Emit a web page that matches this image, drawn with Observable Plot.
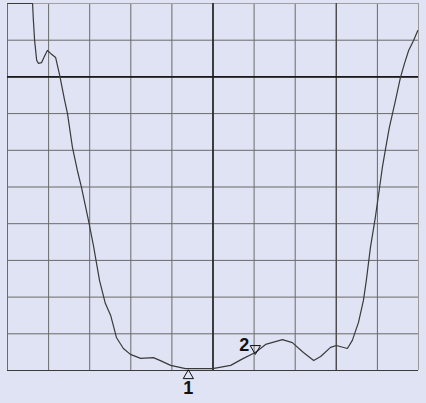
<!DOCTYPE html>
<html>
<head>
<meta charset="utf-8">
<script src="https://cdn.jsdelivr.net/npm/d3@7"></script>
<script src="https://cdn.jsdelivr.net/npm/@observablehq/plot@0.6"></script>
<style>
  html, body { margin: 0; padding: 0; background: #dfe3f3; }
  #chart svg { display: block; }
</style>
</head>
<body>
<div id="chart"></div>
<script>
// Trace (x in divisions 0..10, y in dB, top = 0, 1 dB/div)
const traceX = [0, 0.61, 0.63, 0.66, 0.71, 0.75, 0.83, 0.90, 0.97, 1.05, 1.17, 1.27, 1.39, 1.46, 1.58, 1.70, 1.80, 1.97, 2.09, 2.24, 2.38, 2.51, 2.65, 2.82, 2.99, 3.24, 3.55, 3.72, 3.97, 4.33, 4.99, 5.43, 5.74, 6.03, 6.28, 6.69, 6.93, 7.20, 7.45, 7.62, 7.86, 8.00, 8.27, 8.39, 8.54, 8.66, 8.73, 8.83, 8.95, 9.05, 9.12, 9.20, 9.29, 9.44, 9.56, 9.66, 9.76, 9.88, 9.98];
const traceY = [0, 0, -0.46, -1.01, -1.55, -1.63, -1.61, -1.44, -1.28, -1.36, -1.47, -1.96, -2.64, -3.00, -3.92, -4.55, -5.01, -5.91, -6.59, -7.55, -8.17, -8.50, -9.10, -9.40, -9.56, -9.67, -9.65, -9.73, -9.86, -9.95, -9.95, -9.86, -9.67, -9.51, -9.29, -9.16, -9.24, -9.51, -9.73, -9.62, -9.37, -9.32, -9.40, -9.18, -8.69, -8.09, -7.55, -6.65, -5.83, -5.04, -4.47, -3.95, -3.38, -2.64, -2.02, -1.63, -1.28, -1.01, -0.74];

// Markers
const markerLabels = ["1", "2"];
const markerX = [4.40, 6.03];
const markerY = [-9.95, -9.51];

// Grid
const gridX = [0, 1, 2, 3, 4, 5, 6, 7, 8, 9, 10];
const gridY = [0, -1, -2, -3, -4, -5, -6, -7, -8, -9, -10];
const thickX = [5];
const mediumX = [8];
const thickY = [-2];

const trace = traceX.map((x, i) => ({x, y: traceY[i]}));
const markers = markerLabels.map((label, i) => ({label, x: markerX[i], y: markerY[i]}));

const chart = Plot.plot({
  width: 426,
  height: 403,
  marginLeft: 7,
  marginRight: 8,
  marginTop: 3,
  marginBottom: 33,
  x: {domain: [0, 10], axis: null},
  y: {domain: [-10, 0], axis: null},
  style: {background: "#dfe3f3"},
  marks: [
    Plot.ruleX(gridX.filter(v => v !== 10), {stroke: "#6a6a6a", strokeWidth: 1}),
    Plot.ruleX([10], {stroke: "#9a9a9a", strokeWidth: 1}),
    Plot.ruleY(gridY.filter(v => v !== 0 && v !== -10), {stroke: "#6a6a6a", strokeWidth: 1}),
    Plot.ruleY([0], {stroke: "#a0a0a0", strokeWidth: 1}),
    Plot.ruleY([-10], {stroke: "#3a3a3a", strokeWidth: 1.2}),
    Plot.ruleX(thickX, {stroke: "#222", strokeWidth: 1.6}),
    Plot.ruleX(mediumX, {stroke: "#4a4a4a", strokeWidth: 1.3}),
    Plot.ruleY(thickY, {stroke: "#1a1a1a", strokeWidth: 1.6}),
    Plot.line(trace, {x: "x", y: "y", stroke: "#3a3a3a", strokeWidth: 1.2}),
    // marker 1: up triangle below trace, label below
    Plot.dot(markers.filter(d => d.label === "1"), {x: "x", y: "y", symbol: "triangle", r: 3.8, stroke: "#111", fill: "none", strokeWidth: 1, dy: 7}),
    Plot.text(markers.filter(d => d.label === "1"), {x: "x", y: "y", text: "label", dy: 20, fontSize: 18, fontWeight: "bold", fontFamily: "Liberation Sans, Arial, sans-serif", fill: "#111"}),
    // marker 2: down triangle above trace, label to the left
    Plot.dot(markers.filter(d => d.label === "2"), {x: "x", y: "y", symbol: "triangle", rotate: 180, r: 3.8, stroke: "#111", fill: "none", strokeWidth: 1, dy: -4}),
    Plot.text(markers.filter(d => d.label === "2"), {x: "x", y: "y", text: "label", dx: -11, dy: -7, fontSize: 18, fontWeight: "bold", fontFamily: "Liberation Sans, Arial, sans-serif", fill: "#111"})
  ]
});
document.getElementById("chart").appendChild(chart);
</script>
</body>
</html>
